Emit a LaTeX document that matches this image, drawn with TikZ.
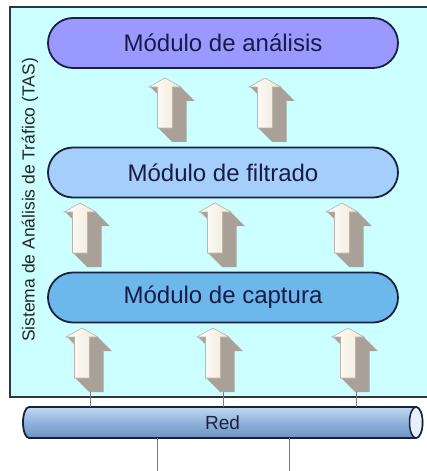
\documentclass[tikz,border=0pt]{standalone}
\usepackage{fontspec}
\setmainfont{Liberation Sans}
\usetikzlibrary{shapes.misc}
\definecolor{bgcyan}{HTML}{CCFFFF}
\definecolor{syslinec}{HTML}{2E3640}
\definecolor{navy}{HTML}{1A2040}
\definecolor{anac}{HTML}{9999FF}
\definecolor{filc}{HTML}{A3CFFA}
\definecolor{capc}{HTML}{6DB8EA}
\definecolor{textc}{HTML}{1A1A48}
\definecolor{sidec}{HTML}{A9A197}
\definecolor{frontline}{HTML}{BDB5AA}
\definecolor{creamc}{HTML}{F1E7D6}
\definecolor{connc}{HTML}{7A7A7A}
\tikzset{
  modbox/.style={rounded rectangle, draw=navy, line width=1.8bp, minimum width=350bp,
    minimum height=50bp, inner sep=0pt, text=textc, font=\fontsize{24bp}{28bp}\selectfont},
  sysbox/.style={draw=syslinec, line width=1.5bp, fill=bgcyan},
  arrside/.style={fill=sidec},
  arrfront/.style={draw=frontline, line width=0.6bp, left color=white, right color=creamc},
  conn/.style={draw=connc, line width=1bp},
  redbody/.style={draw=navy, line width=1.8bp, top color=HTML-C3D8EE, bottom color=HTML-6E92BF, middle color=HTML-8FB2DB},
}
\colorlet{HTML-C3D8EE}{black}
\definecolor{HTML-C3D8EE}{HTML}{C3D8EE}
\definecolor{HTML-6E92BF}{HTML}{6E92BF}
\definecolor{HTML-8FB2DB}{HTML}{8FB2DB}
\newcommand\blockarrow[2]{%
  \begin{scope}[shift={(#1,#2)}]
    \foreach \k in {0,1,...,14}{%
      \fill[arrside] (\k,\k) -- ++(16,9) -- ++(-8.5,0) -- ++(0,41) -- ++(-15,0) -- ++(0,-41) -- ++(-8.5,0) -- cycle;}
    \draw[arrfront] (0,0) -- (16,9) -- (7.5,9) -- (7.5,50) -- (-7.5,50) -- (-7.5,9) -- (-16,9) -- cycle;
  \end{scope}}
\begin{document}
\begin{tikzpicture}[x=1bp,y=-1bp]
\useasboundingbox (0,0) rectangle (426,471);
% system box
\draw[sysbox] (10,7) rectangle (434,397);
\node[rotate=90, text=black!85, font=\fontsize{17.5bp}{20bp}\selectfont, inner sep=0pt] (tas) at (30,200) {Sistema de Análisis de Tráfico (TAS)};
% modules
\node[modbox, fill=anac] (ana) at (223,43) {Módulo de análisis};
\node[modbox, fill=filc] (fil) at (223,172.5) {Módulo de filtrado};
\node[modbox, fill=capc] (cap) at (223,297.5) {Módulo de captura};
% block arrows
\blockarrow{165}{78}
\blockarrow{265}{78}
\blockarrow{80}{203}
\blockarrow{215}{203}
\blockarrow{342}{203}
\blockarrow{82}{328}
\blockarrow{213}{328}
\blockarrow{348}{328}
% network cylinder
\path[redbody] (416,407) -- (29,407) arc[start angle=270, end angle=90, x radius=6, y radius=15.5]
  -- (416,438) arc[start angle=90, end angle=-90, x radius=6.5, y radius=15.5] -- cycle;
\draw[draw=navy, line width=1.5bp, fill=HTML-C3D8EE!40!white] (416,422.5) ellipse [x radius=6.5, y radius=15.5];
\node[minimum width=393bp, minimum height=31bp, inner sep=0pt, text=navy, font=\fontsize{19bp}{22bp}\selectfont] (red) at (222.5,422.5) {Red};
% connectors
\coordinate (u1) at (90,392);
\coordinate (u2) at (223,392);
\coordinate (u3) at (356,392);
\coordinate (d1) at (157,471);
\coordinate (d2) at (289,471);
\draw[conn] (u1) -- (u1 |- red.north);
\draw[conn] (u2) -- (u2 |- red.north);
\draw[conn] (u3) -- (u3 |- red.north);
\draw[conn] (red.south -| d1) -- (d1);
\draw[conn] (red.south -| d2) -- (d2);
\end{tikzpicture}
\end{document}
